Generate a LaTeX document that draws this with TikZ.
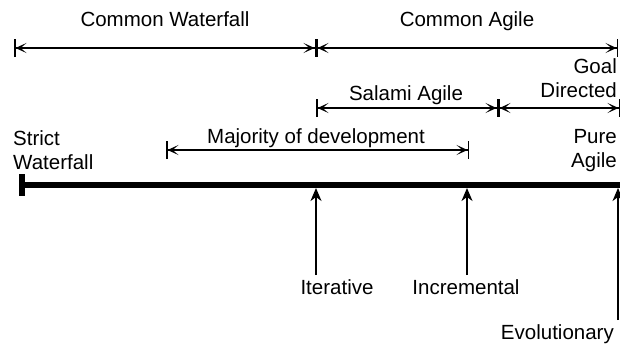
\documentclass[tikz,border=0pt]{standalone}
\usepackage{fontspec}
\setmainfont{Liberation Sans}
\usetikzlibrary{arrows.meta}
\begin{document}
\begin{tikzpicture}[x=1pt,y=-1pt,
  lbl/.style={font=\fontsize{20.5}{24}\selectfont, inner sep=0pt, anchor=base},
  span/.style={line width=1.3pt,
    {Bar[width=18pt,line width=1.5pt]Stealth[length=11pt,width=10pt,inset=6pt]}-{Stealth[length=11pt,width=10pt,inset=6pt]Bar[width=18pt,line width=1.5pt]}},
  uparrow/.style={line width=1.4pt,-{Stealth[length=13pt,width=11pt,inset=4pt]}}]
\useasboundingbox (0,0) rectangle (620,343);
% span coordinates
\coordinate (cw1) at (14,48);
\coordinate (cw2) at (316,48);
\coordinate (ca2) at (618,48);
\coordinate (sa1) at (316,108);
\coordinate (sa2) at (498,108);
\coordinate (gd2) at (620,108);
\coordinate (md1) at (166,150);
\coordinate (md2) at (469,150);
% main line
\coordinate (ml1) at (22,185);
\coordinate (ml2) at (620,185);
\coordinate (bt) at (22,174);
\coordinate (bb) at (22,196);
\coordinate (it) at (316,188);
\coordinate (ib) at (316,275);
\coordinate (nt) at (467,188);
\coordinate (nb) at (467,275);
\coordinate (et) at (618,188);
\coordinate (eb) at (618,320);

\draw[span] (cw1) -- (cw2);
\draw[span] (cw2) -- (ca2);
\draw[span] (sa1) -- (sa2);
\draw[span] (sa2) -- (gd2);
\draw[span] (md1) -- (md2);

\draw[line width=6pt] (ml1) -- (ml2);
\draw[line width=6pt] (bt) -- (bb);

\draw[uparrow] (ib) -- (it);
\draw[uparrow] (nb) -- (nt);
\draw[uparrow] (eb) -- (et);

\node[lbl] (tcw) at (165,26) {Common Waterfall};
\node[lbl] (tca) at (467,26) {Common Agile};
\node[lbl,anchor=base east] (tgoal) at (617,73) {Goal};
\node[lbl,anchor=base east] (tdir) at (617,97) {Directed};
\node[lbl] (tsa) at (406,100) {Salami Agile};
\node[lbl] (tmd) at (316,143) {Majority of development};
\node[lbl,anchor=base east] (tpure) at (617,143) {Pure};
\node[lbl,anchor=base east] (tagile) at (617,167) {Agile};
\node[lbl,anchor=base west] (tstrict) at (13,145) {Strict};
\node[lbl,anchor=base west] (twf) at (13,169) {Waterfall};
\node[lbl] (tit) at (337,294) {Iterative};
\node[lbl] (tinc) at (466,294) {Incremental};
\node[lbl,anchor=base east] (tevo) at (614,339) {Evolutionary};
\end{tikzpicture}
\end{document}
